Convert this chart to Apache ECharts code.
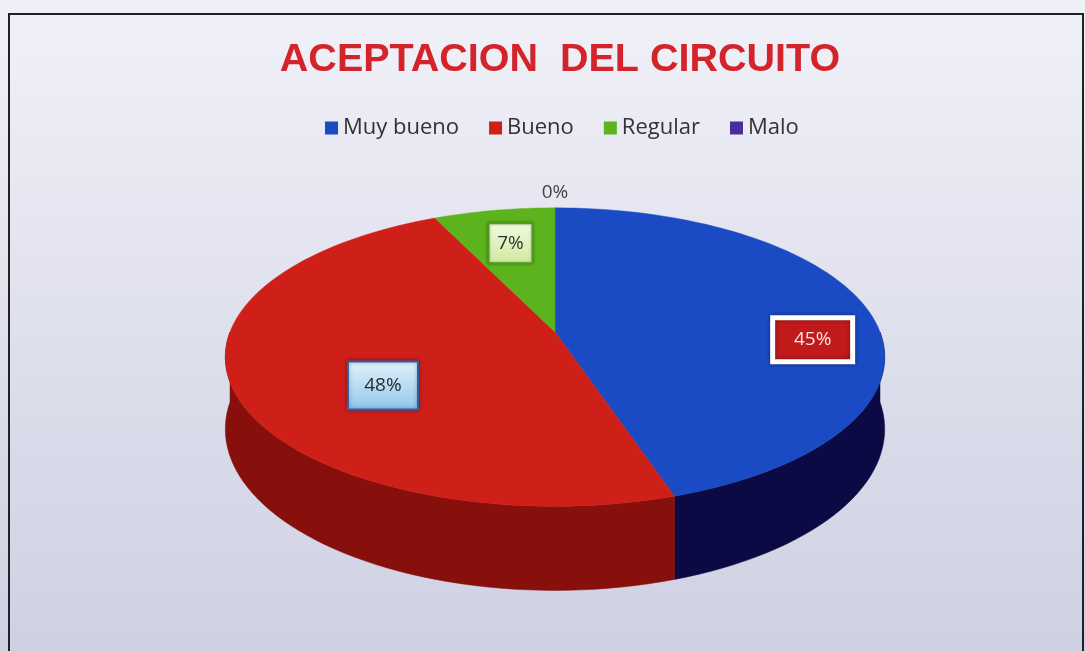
<!DOCTYPE html>
<html>
<head>
<meta charset="utf-8">
<script src="https://cdn.jsdelivr.net/npm/echarts@6/dist/echarts.min.js"></script>
<style>
  html, body { margin: 0; padding: 0; background: #fff; }
  #main { width: 1085px; height: 651px; }
</style>
</head>
<body>
<div id="main"></div>
<script>
// datos del grafico
const categories = ['Muy bueno', 'Bueno', 'Regular', 'Malo'];
const percents = [45, 48, 7, 0];

// colores (cara superior / lateral)
const topColors = ['#1a4bc4', '#cf1f19', '#5cb31d', '#4b2c9e'];
const sideColors = ['#0b0a45', '#870f0c', '#3d7a12', '#2a1760'];
// posicion de las etiquetas: fraccion del radio y ajuste vertical
const labelRadius = [0.82, 0.55, 0.70, 1.145];
const labelDy = [26, 23, 0, 0];

// geometria del pastel 3D (vertice, semiejes, perspectiva, grosor)
const AX = 555, AY = 332, SX = 325, SY = 145, PERSP = 0.168, DEPTH = 70;

function proj(deg, r, down) {
  const a = deg * Math.PI / 180;
  const u = r * Math.sin(a), v = r * Math.cos(a);
  const s = 1 / (1 + PERSP * v);
  return [AX + SX * u * s, AY - SY * v * s + (down || 0) * s];
}

function arcPts(a0, a1, down) {
  const pts = [];
  const n = Math.max(2, Math.ceil((a1 - a0) / 2));
  for (let i = 0; i <= n; i++) pts.push(proj(a0 + (a1 - a0) * i / n, 1, down));
  return pts;
}

function labelBox(i, x, y, text) {
  const font = '19px "Open Sans", sans-serif';
  if (i === 0) {
    return [
      {type: 'rect', z2: 100, shape: {x: x - 40, y: y - 22, width: 80, height: 44},
        style: {fill: '#c11a1a', stroke: '#ffffff', lineWidth: 5, shadowBlur: 4, shadowColor: 'rgba(0,0,0,0.4)'}},
      {type: 'text', z2: 101, style: {text: text, x: x, y: y, align: 'center', verticalAlign: 'middle', fill: '#f6e4e4', font: font}}
    ];
  }
  if (i === 1) {
    return [
      {type: 'rect', z2: 100, shape: {x: x - 35, y: y - 24, width: 70, height: 48},
        style: {
          fill: new echarts.graphic.LinearGradient(0, 0, 0, 1, [{offset: 0, color: '#e4f2fb'}, {offset: 1, color: '#8fc7ec'}]),
          stroke: '#2d5ea8', lineWidth: 2, shadowBlur: 4, shadowColor: 'rgba(0,0,0,0.35)'
        }},
      {type: 'text', z2: 101, style: {text: text, x: x, y: y, align: 'center', verticalAlign: 'middle', fill: '#2b2b2b', font: font}}
    ];
  }
  if (i === 2) {
    return [
      {type: 'rect', z2: 100, shape: {x: x - 22, y: y - 20, width: 44, height: 40},
        style: {
          fill: new echarts.graphic.LinearGradient(0, 0, 0, 1, [{offset: 0, color: '#f2fadf'}, {offset: 1, color: '#cfeaa0'}]),
          stroke: '#4f9a1a', lineWidth: 2, shadowBlur: 3, shadowColor: 'rgba(0,0,0,0.3)'
        }},
      {type: 'text', z2: 101, style: {text: text, x: x, y: y, align: 'center', verticalAlign: 'middle', fill: '#333', font: font}}
    ];
  }
  return [
    {type: 'text', z2: 101, style: {text: text, x: x, y: y, align: 'center', verticalAlign: 'middle', fill: '#444', font: font}}
  ];
}

// inicio acumulado de cada porcion
const starts = [];
percents.reduce((acc, v, i) => { starts[i] = acc; return acc + v; }, 0);

const renderSlice = (idx) => (params, api) => {
  const v = api.value(0), s = api.value(1);
  const a0 = s * 3.6, a1 = (s + v) * 3.6;
  const children = [];
  if (v > 0) {
    // pared lateral (solo la parte frontal)
    const b0 = Math.max(a0, 90), b1 = Math.min(a1, 270);
    if (b1 > b0) {
      const upper = arcPts(b0, b1, 0);
      const lower = arcPts(b0, b1, DEPTH).reverse();
      children.push({type: 'polygon', z2: 1, shape: {points: upper.concat(lower)},
        style: {fill: sideColors[idx], stroke: sideColors[idx], lineWidth: 0.5}});
    }
    // cara superior
    children.push({type: 'polygon', z2: 10, shape: {points: [[AX, AY]].concat(arcPts(a0, a1, 0))},
      style: {fill: topColors[idx], stroke: topColors[idx], lineWidth: 0.5}});
  }
  const mid = (a0 + a1) / 2;
  const p = proj(mid, labelRadius[idx], 0);
  return {type: 'group', children: children.concat(labelBox(idx, p[0], p[1] + labelDy[idx], Math.round(v) + '%'))};
};

const series = categories.map((name, i) => ({
  name: name,
  type: 'custom',
  coordinateSystem: 'none',
  itemStyle: {color: topColors[i]},
  data: [[percents[i], starts[i]]],
  renderItem: renderSlice(i),
  silent: true
}));

const chart = echarts.init(document.getElementById('main'));
chart.setOption({
  animation: false,
  backgroundColor: new echarts.graphic.LinearGradient(0, 0, 0, 1, [
    {offset: 0, color: '#f0f1f8'},
    {offset: 1, color: '#cfd0e2'}
  ]),
  title: {
    text: 'ACEPTACION  DEL CIRCUITO',
    left: 555,
    textAlign: 'center',
    top: 35,
    textStyle: {color: '#d4242b', fontSize: 39.5, fontWeight: 'bold', fontFamily: '"Liberation Sans", Arial, sans-serif'}
  },
  legend: {
    data: categories,
    top: 112,
    left: 320,
    icon: 'rect',
    itemWidth: 13,
    itemHeight: 13,
    itemGap: 30,
    textStyle: {fontSize: 22, color: '#333', fontFamily: '"Open Sans", sans-serif'}
  },
  graphic: [{
    type: 'rect',
    shape: {x: 9, y: 14, width: 1074, height: 640},
    style: {fill: 'none', stroke: '#222', lineWidth: 2}
  }],
  series: series
});
</script>
</body>
</html>
